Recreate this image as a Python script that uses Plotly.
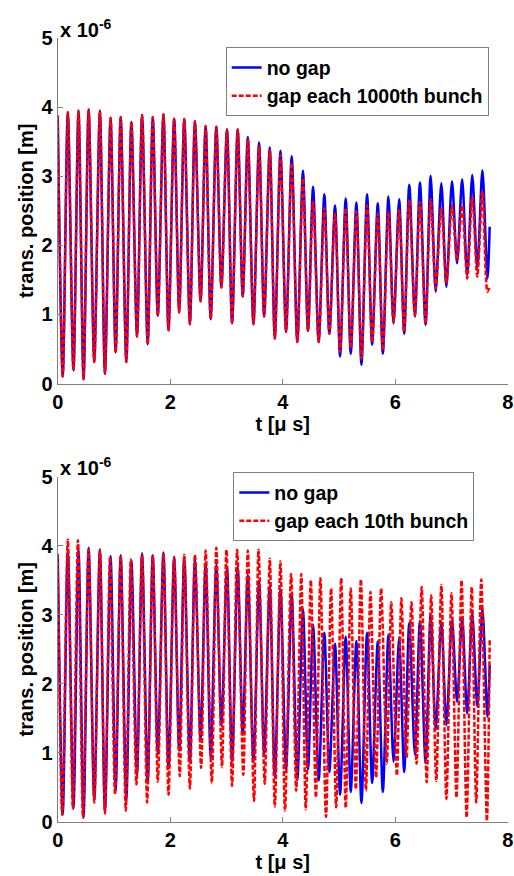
import plotly.graph_objects as go

# ---- data (positions in units of 1e-6 m, time in microseconds) ----
# extrema (peak / trough alternating)
t_nogap = [0.00, 0.09, 0.18, 0.28, 0.37, 0.46, 0.55, 0.65, 0.75, 0.84,
           0.94, 1.03, 1.12, 1.22, 1.31, 1.41, 1.50, 1.60, 1.69, 1.78,
           1.88, 1.97, 2.07, 2.16, 2.25, 2.35, 2.44, 2.54, 2.63, 2.72,
           2.82, 2.91, 3.01, 3.10, 3.20, 3.29, 3.38, 3.48, 3.58, 3.67,
           3.77, 3.86, 3.96, 4.06, 4.16, 4.26, 4.36, 4.45, 4.54, 4.64,
           4.74, 4.83, 4.93, 5.02, 5.12, 5.21, 5.31, 5.40, 5.50, 5.59,
           5.69, 5.78, 5.88, 5.97, 6.07, 6.16, 6.25, 6.35, 6.44, 6.54,
           6.63, 6.72, 6.82, 6.91, 7.01, 7.10, 7.19, 7.28, 7.37, 7.46,
           7.55, 7.64, 7.68]

pos_nogap = [3.88, 0.10, 3.93, 0.19, 3.95, 0.06, 3.97, 0.31, 3.95, 0.14,
             3.85, 0.45, 3.86, 0.31, 3.79, 0.68, 3.89, 0.57, 3.86, 0.98,
             3.90, 0.77, 3.84, 1.03, 3.83, 0.86, 3.80, 1.19, 3.73, 0.93,
             3.72, 1.39, 3.68, 0.87, 3.68, 1.26, 3.57, 0.86, 3.49, 0.97,
             3.42, 0.65, 3.37, 0.75, 3.29, 0.60, 3.08, 0.76, 2.85, 0.60,
             2.74, 0.72, 2.58, 0.39, 2.68, 0.43, 2.62, 0.27, 2.74, 0.56,
             2.61, 0.43, 2.71, 0.87, 2.67, 0.72, 2.88, 0.97, 2.91, 0.85,
             3.01, 1.33, 2.90, 1.40, 2.93, 1.74, 2.96, 1.57, 3.02, 1.67,
             3.09, 1.52, 2.27]

pos_gap1000 = [3.88, 0.10, 3.93, 0.19, 3.95, 0.06, 3.97, 0.31, 3.95, 0.14,
               3.85, 0.45, 3.86, 0.31, 3.79, 0.68, 3.89, 0.57, 3.86, 0.98,
               3.90, 0.77, 3.84, 1.03, 3.83, 0.86, 3.80, 1.19, 3.73, 0.93,
               3.72, 1.39, 3.68, 0.87, 3.68, 1.26, 3.55, 0.86, 3.44, 0.97,
               3.38, 0.65, 3.31, 0.75, 3.20, 0.60, 2.97, 0.76, 2.63, 0.60,
               2.54, 0.72, 2.46, 0.46, 2.54, 0.51, 2.49, 0.36, 2.58, 0.60,
               2.46, 0.48, 2.49, 0.89, 2.51, 0.75, 2.66, 0.99, 2.63, 0.87,
               2.67, 1.38, 2.56, 1.45, 2.58, 1.79, 2.58, 1.52, 2.71, 1.55,
               2.78, 1.33, 1.40]

t_gap10 = [0.00, 0.08, 0.18, 0.27, 0.36, 0.45, 0.55, 0.65, 0.75, 0.84,
           0.93, 1.02, 1.12, 1.21, 1.30, 1.40, 1.50, 1.59, 1.69, 1.78,
           1.88, 1.97, 2.07, 2.17, 2.25, 2.35, 2.44, 2.55, 2.63, 2.74,
           2.82, 2.92, 3.00, 3.10, 3.19, 3.30, 3.38, 3.49, 3.57, 3.68,
           3.77, 3.86, 3.96, 4.04, 4.15, 4.24, 4.33, 4.41, 4.50, 4.59,
           4.67, 4.77, 4.86, 4.95, 5.04, 5.12, 5.21, 5.30, 5.39, 5.48,
           5.56, 5.66, 5.75, 5.85, 5.93, 6.03, 6.11, 6.20, 6.29, 6.38,
           6.47, 6.56, 6.64, 6.73, 6.82, 6.91, 7.00, 7.09, 7.18, 7.27,
           7.36, 7.44, 7.53, 7.63, 7.68]

pos_gap10 = [3.88, 0.10, 4.09, 0.19, 4.08, 0.06, 3.95, 0.28, 3.93, 0.12,
             3.84, 0.40, 3.85, 0.16, 3.80, 0.54, 3.87, 0.28, 3.86, 0.58,
             3.89, 0.39, 3.83, 0.66, 3.87, 0.48, 3.87, 0.78, 3.93, 0.56,
             3.97, 0.79, 3.94, 0.52, 3.94, 0.68, 3.93, 0.30, 3.94, 0.55,
             3.81, 0.22, 3.77, 0.16, 3.59, 0.45, 3.59, 0.18, 3.50, 0.35,
             3.53, 0.07, 3.38, 0.21, 3.53, 0.20, 3.38, 0.47, 3.51, 0.45,
             3.33, 0.64, 3.38, 0.84, 3.18, 0.67, 3.24, 0.93, 3.18, 0.84,
             3.40, 0.57, 3.28, 0.59, 3.43, 0.33, 3.31, 0.35, 3.50, 0.06,
             3.40, 0.28, 3.51, 0.01, 2.63]

x_ticks = [0, 2, 4, 6, 8]
y_ticks = [0, 1, 2, 3, 4, 5]
x_title = "t [\u03bc s]"
y_title = "trans. position [m]"
scale_text = "x 10<sup>-6</sup>"
names_top = ["no gap", "gap each 1000th bunch"]
names_bot = ["no gap", "gap each 10th bunch"]

# ---- layout geometry ----
W, H = 514, 876
FONT = "Liberation Sans, Arial, Helvetica, sans-serif"
AX = "#808080"
xdom = [57.7 / W, 507.7 / W]
ydom_top = [1 - 383.5 / H, 1 - 38.3 / H]
ydom_bot = [1 - 821.7 / H, 1 - 476.7 / H]

fig = go.Figure()
blue = dict(color="#0000ff", width=2.5, shape="spline", smoothing=0.8)
red = dict(color="#ff0000", width=2.5, dash="5px,2px", shape="spline", smoothing=0.8)

fig.add_trace(go.Scatter(x=t_nogap, y=pos_nogap, mode="lines", line=blue,
                         name=names_top[0], xaxis="x", yaxis="y", legend="legend"))
fig.add_trace(go.Scatter(x=t_nogap, y=pos_gap1000, mode="lines", line=red,
                         name=names_top[1], xaxis="x", yaxis="y", legend="legend"))
fig.add_trace(go.Scatter(x=t_nogap, y=pos_nogap, mode="lines", line=blue,
                         name=names_bot[0], xaxis="x2", yaxis="y2", legend="legend2"))
fig.add_trace(go.Scatter(x=t_gap10, y=pos_gap10, mode="lines", line=red,
                         name=names_bot[1], xaxis="x2", yaxis="y2", legend="legend2"))

tickfont = dict(family=FONT, size=20, color="black", weight="bold")
titlefont = dict(family=FONT, size=20, color="black", weight="bold")


def xax(anchor):
    return dict(domain=xdom, anchor=anchor, range=[0, 8], tickvals=x_ticks,
                ticks="inside", ticklen=5, tickcolor=AX, showline=True,
                linecolor=AX, linewidth=1, showgrid=False, zeroline=False,
                tickfont=tickfont, automargin=False,
                title=dict(text=x_title, font=titlefont, standoff=4))


def yax(dom, anchor):
    return dict(domain=dom, anchor=anchor, range=[0, 5], tickvals=y_ticks,
                ticks="inside", ticklen=5, tickcolor=AX, showline=True,
                linecolor=AX, linewidth=1, showgrid=False, zeroline=False,
                tickfont=tickfont, automargin=False,
                title=dict(text=y_title, font=titlefont, standoff=2))


legend_common = dict(xanchor="left", yanchor="top", bgcolor="white",
                     bordercolor=AX, borderwidth=1,
                     font=dict(family=FONT, size=19.5, color="black", weight="bold"))

fig.update_layout(
    width=W, height=H, autosize=False,
    margin=dict(l=0, r=0, t=0, b=0),
    paper_bgcolor="white", plot_bgcolor="white",
    xaxis=xax("y"), yaxis=yax(ydom_top, "x"),
    xaxis2=xax("y2"), yaxis2=yax(ydom_bot, "x2"),
    legend=dict(x=225.7 / W, y=1 - 47.3 / H, **legend_common),
    legend2=dict(x=233.3 / W, y=1 - 472.3 / H, **legend_common),
    showlegend=True,
)

for ytop in (38.3, 476.7):
    fig.add_annotation(text=scale_text, xref="paper", yref="paper",
                       x=57.7 / W, y=1 - (ytop - 10) / H, xanchor="left",
                       yanchor="middle", showarrow=False,
                       font=dict(family=FONT, size=20, color="black", weight="bold"))

fig.write_html("out.html", config={"displayModeBar": False},
               post_script="document.body.style.margin='0';")
